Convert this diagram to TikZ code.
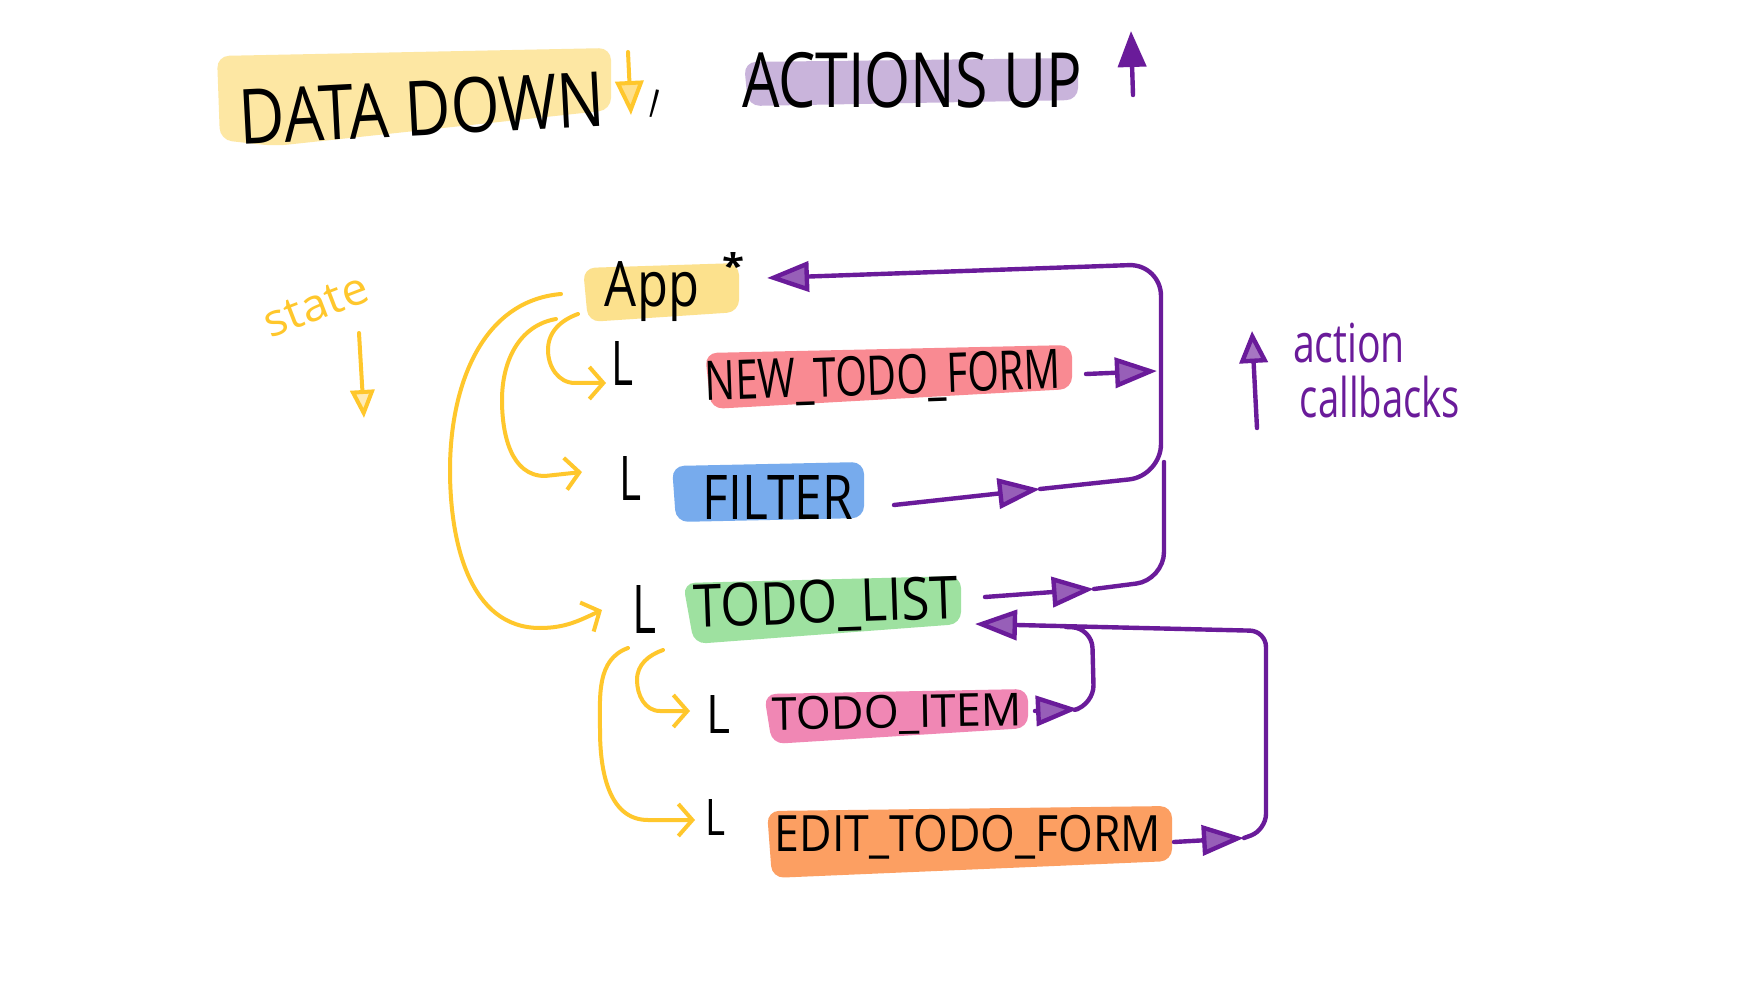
\documentclass[tikz,border=0pt]{standalone}
\usepackage{fontspec}
\setmainfont{Open Sans}
\usepackage{graphicx}
\usetikzlibrary{arrows.meta}
\definecolor{pl}{HTML}{6A1B9A}
\definecolor{yl}{HTML}{FFC72C}
\definecolor{hy}{HTML}{FCD767}
\definecolor{hp}{HTML}{B89BD0}
\definecolor{hr}{HTML}{F7646E}
\definecolor{hb}{HTML}{4A90E8}
\definecolor{hg}{HTML}{7ED881}
\definecolor{hk}{HTML}{EC5F9C}
\definecolor{ho}{HTML}{FB7F2E}
\newcommand{\hwtext}[3]{\resizebox*{#1}{#2}{#3}}
\tikzset{
  pline/.style={draw=pl, line width=2.2pt, line cap=round, line join=round},
  parrow/.style={pline, -{Triangle[length=21pt,width=15pt,fill=pl!70]}},
  yline/.style={draw=yl, line width=2pt, line cap=round, line join=round},
  yarrow/.style={yline, -{Straight Barb[length=7pt,width=16pt]}},
  lab/.style={inner sep=0pt, text=black},
  hl/.style={fill=#1, opacity=0.75, rounded corners=6pt},
}
\begin{document}
\begin{tikzpicture}[x=0.5pt,y=-0.5pt]
\useasboundingbox (0,0) rectangle (1742,984);
\fill[white] (0,0) rectangle (1742,984);
% highlights
\fill[hl=hy, opacity=0.6] (217,56) -- (611,48) -- (611,110) -- (275,146) -- (220,140) -- cycle;
\fill[hl=hp] (744,62) -- (1078,58) -- (1078,100) -- (748,106) -- cycle;
\fill[hl=hy] (583,268) -- (739,263) -- (739,312) -- (588,322) -- cycle;
\fill[hl=hr] (705,353) -- (1072,345) -- (1072,389) -- (711,409) -- cycle;
\fill[hl=hb] (672,466) -- (864,462) -- (864,518) -- (676,522) -- cycle;
\fill[hl=hg] (683,583) -- (961,576) -- (961,624) -- (694,644) -- cycle;
\fill[hl=hk] (764,694) -- (1028,689) -- (1028,728) -- (772,744) -- cycle;
\fill[hl=ho] (767,811) -- (1172,806) -- (1172,861) -- (772,878) -- cycle;
% title
\node[lab, rotate=3] (data) at (422,108) {\hwtext{183pt}{28pt}{DATA DOWN}};
\node[lab, rotate=-10] (comma) at (655,104) {\hwtext{4pt}{14pt}{,}};
\node[lab] (actions) at (912,80) {\hwtext{170pt}{28pt}{ACTIONS UP}};
\coordinate (ydS) at (628,52);
\coordinate (ydE) at (631,115);
\coordinate (puS) at (1133,95);
\coordinate (puE) at (1131,31);
\draw[yline, -{Triangle[length=17pt,width=14pt,fill=yl!55]}] (ydS) -- (ydE);
\draw[pline, -{Triangle[length=18pt,width=14pt,fill=pl]}] (puS) -- (puE);
% labels
\node[lab] (app) at (652,292) {\hwtext{47pt}{30pt}{App}};
\node[lab] (star) at (733,266) {\hwtext{11pt}{13pt}{\bfseries *}};
\node[lab] (L1) at (622,364) {\hwtext{11pt}{22pt}{L}};
\node[lab] (L2) at (630,478) {\hwtext{11pt}{22pt}{L}};
\node[lab] (L3) at (644,609) {\hwtext{12pt}{24pt}{L}};
\node[lab] (L4) at (718,714) {\hwtext{12pt}{19pt}{L}};
\node[lab] (L5) at (715,817) {\hwtext{10pt}{18pt}{L}};
\node[lab, rotate=2] (ntf) at (883,379) {\hwtext{178pt}{24pt}{NEW\_TODO\_FORM}};
\node[lab] (filter) at (778,497) {\hwtext{75pt}{22pt}{FILTER}};
\node[lab, rotate=2] (tlist) at (826,606) {\hwtext{132pt}{26pt}{TODO\_LIST}};
\node[lab, rotate=1] (titem) at (897,715) {\hwtext{125pt}{20pt}{TODO\_ITEM}};
\node[lab] (edit) at (968,837) {\hwtext{193pt}{22pt}{EDIT\_TODO\_FORM}};
\node[lab, text=yl, rotate=21] (state) at (316,306) {\hwtext{54pt}{15pt}{state}};
\node[lab, text=pl] (action) at (1349,343) {\hwtext{56pt}{20pt}{action}};
\node[lab, text=pl] (callbacks) at (1380,397) {\hwtext{80pt}{21pt}{callbacks}};
% side arrows
\coordinate (stS) at (359,333);
\coordinate (stE) at (364,418);
\draw[yline, -{Triangle[length=14pt,width=12pt,fill=yl!35]}] (stS) -- (stE);
\coordinate (acS) at (1257,428);
\coordinate (acE) at (1252,331);
\draw[pline, -{Triangle[length=16pt,width=14pt,fill=pl!60]}] (acS) -- (acE);
% purple connectors
\coordinate (appIn) at (767,278);
\coordinate (busTop) at (1161,264);
\coordinate (ntfOut) at (1086,374);
\coordinate (ntfJ) at (1157,371);
\coordinate (fOut) at (894,505);
\coordinate (fTip) at (1040,489);
\coordinate (fJ) at (1161,476);
\coordinate (tlOut) at (985,597);
\coordinate (tlTip) at (1094,589);
\coordinate (tlJ) at (1164,580);
\coordinate (tlTop) at (1164,462);
\coordinate (tlIn) at (975,624);
\coordinate (eOut) at (1174,842);
\coordinate (eTip) at (1244,838);
\coordinate (eJ) at (1266,830);
\coordinate (eTop) at (1266,631);
\coordinate (tiOut) at (1035,711);
\coordinate (tiTip) at (1078,709);
\coordinate (tiJ) at (1094,705);
\coordinate (tiTop) at (1092,628);
\coordinate (tiEnd) at (1066,627);
\draw[parrow, rounded corners=16pt] (fTip) -- (fJ) -- (busTop) -- (appIn);
\draw[parrow] (ntfOut) -- (ntfJ);
\draw[parrow] (fOut) -- (fTip);
\draw[parrow] (tlOut) -- (tlTip);
\draw[pline, rounded corners=14pt] (tlTip) -- (tlJ) -- (tlTop);
\draw[parrow] (eOut) -- (eTip);
\draw[parrow, rounded corners=8pt] (eTip) -- (eJ) -- (eTop) -- (tlIn);
\draw[parrow] (tiOut) -- (tiTip);
\draw[pline, rounded corners=10pt] (tiTip) -- (tiJ) -- (tiTop) -- (tiEnd);
% yellow connectors
\coordinate (c1s) at (561,294); \coordinate (c1l) at (450,470); \coordinate (c1b) at (540,628); \coordinate (c1t) at (602,610);
\coordinate (c2s) at (556,319); \coordinate (c2l) at (502,400); \coordinate (c2b) at (545,476); \coordinate (c2t) at (582,472);
\coordinate (c3s) at (578,314); \coordinate (c3l) at (548,350); \coordinate (c3b) at (575,383); \coordinate (c3t) at (606,383);
\coordinate (c4s) at (663,650); \coordinate (c4l) at (637,680); \coordinate (c4b) at (660,711); \coordinate (c4t) at (690,711);
\coordinate (c5s) at (628,648); \coordinate (c5l) at (600,730); \coordinate (c5b) at (648,820); \coordinate (c5t) at (695,820);
\draw[yarrow] (c1s) to[out=185,in=90] (c1l) to[out=-90,in=180] (c1b) to[out=0,in=205] (c1t);
\draw[yarrow] (c2s) to[out=190,in=90] (c2l) to[out=-90,in=180] (c2b) -- (c2t);
\draw[yarrow] (c3s) to[out=200,in=90] (c3l) to[out=-90,in=180] (c3b) -- (c3t);
\draw[yarrow] (c4s) to[out=200,in=90] (c4l) to[out=-90,in=180] (c4b) -- (c4t);
\draw[yarrow] (c5s) to[out=200,in=90] (c5l) to[out=-90,in=180] (c5b) -- (c5t);
\end{tikzpicture}
\end{document}
